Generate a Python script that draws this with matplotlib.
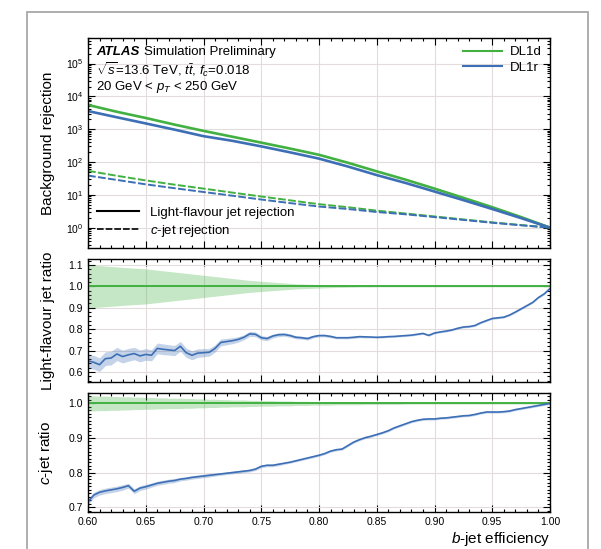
import numpy as np
import matplotlib.pyplot as plt
from matplotlib.lines import Line2D
from matplotlib.patches import Rectangle
from matplotlib.ticker import MultipleLocator, FixedLocator, LogFormatterSciNotation, NullFormatter

plt.rcParams['font.family'] = ['Liberation Sans', 'DejaVu Sans']
plt.rcParams['mathtext.fontset'] = 'custom'
plt.rcParams['mathtext.rm'] = 'Liberation Sans'
plt.rcParams['mathtext.it'] = 'Liberation Sans:italic'
plt.rcParams['mathtext.bf'] = 'Liberation Sans:bold'

# b-jet efficiency working points for the rejection curves
eff = [0.600, 0.625, 0.650, 0.675, 0.700, 0.725, 0.750, 0.775, 0.800,
       0.825, 0.850, 0.875, 0.900, 0.925, 0.950, 0.975, 1.000]
light_dl1d = [5500, 3400, 2200, 1380, 890, 590, 390, 257, 166,
              95, 52, 29, 15.5, 8.1, 4.2, 2.1, 1.0]
light_dl1r = [3580, 2310, 1500, 970, 614, 443, 300, 197, 127,
              73, 40, 23, 12.6, 6.9, 3.7, 1.95, 1.0]
c_dl1d = [54, 38, 27.5, 20.4, 15.5, 11.7, 8.9, 6.8, 5.2,
          4.2, 3.3, 2.7, 2.2, 1.78, 1.45, 1.2, 1.0]
c_dl1r = [38.6, 28.5, 20.9, 15.9, 12.2, 9.4, 7.2, 5.6, 4.4,
          3.7, 3.0, 2.55, 2.1, 1.72, 1.41, 1.18, 1.0]
rej_ticks = [1, 10, 100, 1000, 10000, 100000]
rej_minor = [m * d for d in (0.1, 1, 10, 100, 1000, 10000, 100000)
             for m in range(2, 10)]

# finer scan for the ratio panels (DL1r / DL1d)
eff_fine = [0.600, 0.605, 0.610, 0.615, 0.620, 0.625, 0.630, 0.635, 0.640, 0.645,
            0.650, 0.655, 0.660, 0.665, 0.670, 0.675, 0.680, 0.685, 0.690, 0.695,
            0.700, 0.705, 0.710, 0.715, 0.720, 0.725, 0.730, 0.735, 0.740, 0.745,
            0.750, 0.755, 0.760, 0.765, 0.770, 0.775, 0.780, 0.785, 0.790, 0.795,
            0.800, 0.805, 0.810, 0.815, 0.820, 0.825, 0.830, 0.835, 0.840, 0.845,
            0.850, 0.855, 0.860, 0.865, 0.870, 0.875, 0.880, 0.885, 0.890, 0.895,
            0.900, 0.905, 0.910, 0.915, 0.920, 0.925, 0.930, 0.935, 0.940, 0.945,
            0.950, 0.955, 0.960, 0.965, 0.970, 0.975, 0.980, 0.985, 0.990, 0.995,
            1.000]
light_ratio = [0.652, 0.645, 0.634, 0.662, 0.665, 0.684, 0.672, 0.680, 0.686, 0.675,
               0.682, 0.678, 0.710, 0.706, 0.703, 0.700, 0.720, 0.690, 0.678, 0.688,
               0.690, 0.692, 0.710, 0.738, 0.742, 0.746, 0.752, 0.762, 0.778, 0.776,
               0.760, 0.756, 0.768, 0.774, 0.775, 0.770, 0.762, 0.760, 0.756, 0.765,
               0.770, 0.770, 0.766, 0.760, 0.760, 0.760, 0.762, 0.765, 0.764, 0.763,
               0.762, 0.763, 0.765, 0.766, 0.768, 0.770, 0.772, 0.776, 0.780, 0.771,
               0.782, 0.787, 0.791, 0.796, 0.804, 0.810, 0.812, 0.817, 0.830, 0.840,
               0.850, 0.853, 0.856, 0.866, 0.880, 0.895, 0.910, 0.925, 0.948, 0.965,
               0.990]
light_ratio_err = [0.032, 0.032, 0.032, 0.032, 0.032, 0.031, 0.030, 0.030, 0.029, 0.028,
                   0.027, 0.026, 0.025, 0.025, 0.024, 0.024, 0.023, 0.022, 0.021, 0.020,
                   0.019, 0.018, 0.017, 0.016, 0.015, 0.014, 0.013, 0.012, 0.012, 0.011,
                   0.010, 0.010, 0.009, 0.009, 0.008, 0.008, 0.007, 0.007, 0.007, 0.006,
                   0.006, 0.006, 0.006, 0.005, 0.005, 0.005, 0.005, 0.005, 0.005, 0.004,
                   0.004, 0.004, 0.004, 0.004, 0.004, 0.004, 0.004, 0.004, 0.004, 0.004,
                   0.004, 0.004, 0.004, 0.004, 0.004, 0.004, 0.004, 0.004, 0.004, 0.004,
                   0.004, 0.004, 0.004, 0.004, 0.004, 0.004, 0.004, 0.004, 0.004, 0.004,
                   0.004]
light_ref_err = [0.100, 0.099, 0.097, 0.095, 0.093, 0.091, 0.089, 0.087, 0.085, 0.084,
                 0.082, 0.079, 0.076, 0.073, 0.070, 0.067, 0.064, 0.061, 0.058, 0.055,
                 0.052, 0.049, 0.046, 0.043, 0.040, 0.037, 0.034, 0.031, 0.028, 0.026,
                 0.024, 0.022, 0.020, 0.018, 0.016, 0.014, 0.012, 0.011, 0.010, 0.009,
                 0.008, 0.007, 0.006, 0.005, 0.005, 0.004, 0.004, 0.003, 0.003, 0.003,
                 0.002, 0.002, 0.002, 0.002, 0.002, 0.002, 0.002, 0.002, 0.002, 0.002,
                 0.002, 0.002, 0.002, 0.002, 0.002, 0.002, 0.002, 0.002, 0.002, 0.002,
                 0.002, 0.002, 0.002, 0.002, 0.002, 0.002, 0.002, 0.002, 0.002, 0.002,
                 0.002]
c_ratio = [0.715, 0.735, 0.743, 0.747, 0.750, 0.753, 0.757, 0.762, 0.746, 0.755,
           0.759, 0.764, 0.769, 0.772, 0.775, 0.777, 0.781, 0.783, 0.786, 0.788,
           0.790, 0.792, 0.794, 0.796, 0.798, 0.800, 0.802, 0.804, 0.806, 0.810,
           0.818, 0.821, 0.821, 0.824, 0.827, 0.830, 0.834, 0.838, 0.842, 0.846,
           0.850, 0.855, 0.862, 0.866, 0.868, 0.878, 0.888, 0.895, 0.901, 0.905,
           0.910, 0.915, 0.921, 0.929, 0.935, 0.941, 0.947, 0.951, 0.954, 0.955,
           0.955, 0.957, 0.958, 0.960, 0.962, 0.964, 0.965, 0.968, 0.972, 0.975,
           0.975, 0.975, 0.976, 0.978, 0.982, 0.985, 0.988, 0.991, 0.994, 0.997,
           1.000]
c_ratio_err = [0.008, 0.008, 0.008, 0.008, 0.008, 0.008, 0.008, 0.007, 0.007, 0.007,
               0.007, 0.006, 0.006, 0.006, 0.006, 0.006, 0.005, 0.005, 0.005, 0.005,
               0.005, 0.005, 0.004, 0.004, 0.004, 0.004, 0.004, 0.004, 0.004, 0.004,
               0.004, 0.004, 0.004, 0.004, 0.003, 0.003, 0.003, 0.003, 0.003, 0.003,
               0.003, 0.003, 0.003, 0.003, 0.003, 0.003, 0.003, 0.003, 0.003, 0.003,
               0.003, 0.003, 0.003, 0.003, 0.003, 0.003, 0.003, 0.003, 0.003, 0.003,
               0.003, 0.003, 0.003, 0.003, 0.003, 0.003, 0.003, 0.003, 0.003, 0.003,
               0.003, 0.003, 0.003, 0.003, 0.003, 0.003, 0.003, 0.003, 0.003, 0.003,
               0.003]
c_ref_err = [0.022, 0.022, 0.021, 0.021, 0.020, 0.020, 0.019, 0.019, 0.018, 0.018,
             0.017, 0.017, 0.016, 0.016, 0.015, 0.015, 0.015, 0.014, 0.014, 0.013,
             0.013, 0.012, 0.012, 0.011, 0.011, 0.010, 0.010, 0.010, 0.009, 0.009,
             0.008, 0.008, 0.008, 0.007, 0.007, 0.007, 0.006, 0.006, 0.006, 0.005,
             0.005, 0.005, 0.005, 0.004, 0.004, 0.004, 0.004, 0.004, 0.003, 0.003,
             0.003, 0.003, 0.003, 0.003, 0.003, 0.002, 0.002, 0.002, 0.002, 0.002,
             0.002, 0.002, 0.002, 0.002, 0.002, 0.002, 0.002, 0.002, 0.002, 0.002,
             0.002, 0.002, 0.002, 0.002, 0.002, 0.002, 0.002, 0.002, 0.002, 0.002,
             0.002]

taggers = ['DL1d', 'DL1r']
green = '#42b142'
blue = '#3d6fb6'

fig = plt.figure(figsize=(6.01, 5.49), dpi=100)
L, W = 88 / 601, 462 / 601
ax1 = fig.add_axes([L, 1 - 248 / 549, W, 210 / 549])
ax2 = fig.add_axes([L, 1 - 382 / 549, W, 123 / 549], sharex=ax1)
ax3 = fig.add_axes([L, 1 - 512 / 549, W, 119 / 549], sharex=ax1)

# outer frame
fig.patches.append(Rectangle((27 / 601, -0.1), 561 / 601, 1.1 - 12 / 549,
                             transform=fig.transFigure, fill=False,
                             edgecolor='#a8a8a8', lw=1.3))

# rejection curves
ax1.plot(eff, light_dl1d, color=green, lw=1.9)
ax1.plot(eff, light_dl1r, color=blue, lw=1.9)
ax1.plot(eff, c_dl1d, color=green, lw=1.4, ls=(0, (4, 1.2)))
ax1.plot(eff, c_dl1r, color=blue, lw=1.4, ls=(0, (4, 1.2)))
ax1.set_yscale('log')
ax1.set_ylim(10 ** -0.62, 10 ** 5.78)
ax1.yaxis.set_major_locator(FixedLocator(rej_ticks))
ax1.yaxis.set_major_formatter(LogFormatterSciNotation())
ax1.yaxis.set_minor_locator(FixedLocator(rej_minor))
ax1.yaxis.set_minor_formatter(NullFormatter())
ax1.set_ylabel('Background rejection', fontsize=11)

atlas = ax1.text(0.018, 0.935, 'ATLAS', transform=ax1.transAxes, fontsize=9.5,
                 va='center', fontweight='bold', fontstyle='italic')
fig.canvas.draw()
ext = atlas.get_window_extent()
ax1.text(ext.x1 + 4, (ext.y0 + ext.y1) / 2, 'Simulation Preliminary',
         transform=None, fontsize=9.5, va='center')
ax1.text(0.018, 0.85, r'$\sqrt{s}$=13.6 TeV, $t\bar{t}$, $f_c$=0.018',
         transform=ax1.transAxes, fontsize=9.5, va='center')
ax1.text(0.018, 0.765, r'20 GeV < $p_T$ < 250 GeV',
         transform=ax1.transAxes, fontsize=9.5, va='center')

tag_handles = [Line2D([], [], color=green, lw=1.5), Line2D([], [], color=blue, lw=1.5)]
leg1 = ax1.legend(tag_handles, taggers, loc='upper right', frameon=False,
                  fontsize=9.5, handlelength=3.0, borderaxespad=0.2,
                  labelspacing=0.25, handletextpad=0.6)
ax1.add_artist(leg1)
style_handles = [Line2D([], [], color='black', lw=1.5),
                 Line2D([], [], color='black', lw=1.2, ls=(0, (4, 1.2)))]
ax1.legend(style_handles, ['Light-flavour jet rejection', r'$c$-jet rejection'],
           loc='lower left', frameon=False, fontsize=9.5, handlelength=3.2,
           borderaxespad=0.3, labelspacing=0.3)

# light-flavour ratio
lr = np.array(light_ratio)
lre = np.array(light_ratio_err)
lref = np.array(light_ref_err)
ax2.fill_between(eff_fine, 1 - lref, 1 + lref, color=green, alpha=0.3, lw=0)
ax2.fill_between(eff_fine, lr - lre, lr + lre, color=blue, alpha=0.3, lw=0)
ax2.plot(eff_fine, np.ones(len(eff_fine)), color=green, lw=1.4)
ax2.plot(eff_fine, lr, color=blue, lw=1.2)
ax2.set_ylim(0.553, 1.128)
ax2.yaxis.set_major_locator(MultipleLocator(0.1))
ax2.yaxis.set_minor_locator(MultipleLocator(0.02))
ax2.set_ylabel('Light-flavour jet ratio', fontsize=11)

# c-jet ratio
cr = np.array(c_ratio)
cre = np.array(c_ratio_err)
cref = np.array(c_ref_err)
ax3.fill_between(eff_fine, 1 - cref, 1 + cref, color=green, alpha=0.3, lw=0)
ax3.fill_between(eff_fine, cr - cre, cr + cre, color=blue, alpha=0.3, lw=0)
ax3.plot(eff_fine, np.ones(len(eff_fine)), color=green, lw=1.4)
ax3.plot(eff_fine, cr, color=blue, lw=1.2)
ax3.set_ylim(0.686, 1.03)
ax3.yaxis.set_major_locator(MultipleLocator(0.1))
ax3.yaxis.set_minor_locator(MultipleLocator(0.01))
ax3.set_ylabel(r'$c$-jet ratio', fontsize=11)
ax3.set_xlabel(r'$b$-jet efficiency', fontsize=11, loc='right', labelpad=2)

ax1.set_xlim(0.6, 1.0)
ax1.xaxis.set_major_locator(MultipleLocator(0.05))
ax1.xaxis.set_minor_locator(MultipleLocator(0.01))
ax3.xaxis.set_major_formatter(plt.FormatStrFormatter('%.2f'))

for ax in (ax1, ax2, ax3):
    ax.grid(True, which='major', color='#e2dcdc', lw=0.8)
    ax.set_axisbelow(True)
    ax.tick_params(which='both', direction='in', top=True, right=True,
                   labelsize=7.5, width=0.8)
    ax.tick_params(which='major', length=5)
    ax.tick_params(which='minor', length=2.5)
    for s in ax.spines.values():
        s.set_linewidth(1.0)
    ax.yaxis.set_label_coords(-0.072, 0.5)
for ax in (ax1, ax2):
    ax.tick_params(which='both', labelbottom=False)

fig.savefig('out.png', dpi=100)
